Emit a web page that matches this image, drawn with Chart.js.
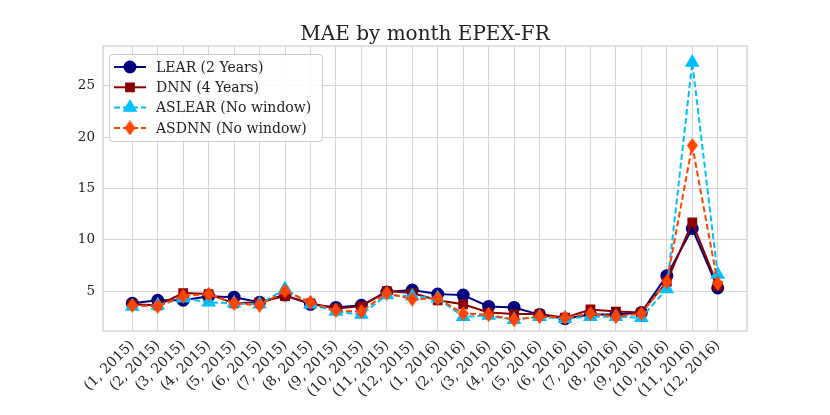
<!DOCTYPE html>
<html>
<head>
<meta charset="utf-8">
<script src="https://cdn.jsdelivr.net/npm/chart.js@4.4.1/dist/chart.umd.min.js"></script>
<style>
  body { margin: 0; background: #fff; }
</style>
</head>
<body>
<canvas id="maeChart" width="830" height="415"></canvas>
<script>
// Month labels (month, year)
const months = ['(1, 2015)', '(2, 2015)', '(3, 2015)', '(4, 2015)', '(5, 2015)', '(6, 2015)',
    '(7, 2015)', '(8, 2015)', '(9, 2015)', '(10, 2015)', '(11, 2015)', '(12, 2015)',
    '(1, 2016)', '(2, 2016)', '(3, 2016)', '(4, 2016)', '(5, 2016)', '(6, 2016)',
    '(7, 2016)', '(8, 2016)', '(9, 2016)', '(10, 2016)', '(11, 2016)', '(12, 2016)'];

const learMae = [3.8, 4.1, 4.1, 4.5, 4.4, 3.9, 4.6, 3.7, 3.4, 3.6, 4.9, 5.1,
    4.7, 4.6, 3.5, 3.4, 2.7, 2.3, 2.7, 2.7, 2.9, 6.5, 11.1, 5.3];
const dnnMae = [3.7, 3.6, 4.8, 4.7, 3.8, 3.9, 4.5, 3.8, 3.3, 3.5, 5.0, 4.8,
    4.1, 3.7, 2.9, 2.75, 2.75, 2.4, 3.2, 3.0, 2.9, 5.9, 11.7, 5.5];
const aslearMae = [3.5, 3.6, 4.3, 3.9, 3.8, 3.7, 5.2, 3.7, 3.0, 2.7, 4.6, 4.5,
    4.3, 2.5, 2.6, 2.2, 2.5, 2.3, 2.5, 2.5, 2.4, 5.2, 27.3, 6.6];
const asdnnMae = [3.6, 3.5, 4.5, 4.7, 3.8, 3.6, 5.0, 3.9, 3.1, 3.0, 4.8, 4.2,
    4.3, 2.8, 2.7, 2.2, 2.5, 2.4, 2.8, 2.5, 2.8, 5.9, 19.2, 5.75];

const yTicks = [5, 10, 15, 20, 25];
const chartTitle = 'MAE by month EPEX-FR';

const FONT = "'DejaVu Serif', serif";

function toPoints(arr) {
    return arr.map((v, i) => ({ x: i, y: v }));
}

// thin diamond marker (matplotlib 'd')
function thinDiamond(color) {
    const cv = document.createElement('canvas');
    cv.width = 11; cv.height = 15;
    const g = cv.getContext('2d');
    g.fillStyle = color;
    g.beginPath();
    g.moveTo(5.5, 0);
    g.lineTo(11, 7.5);
    g.lineTo(5.5, 15);
    g.lineTo(0, 7.5);
    g.closePath();
    g.fill();
    return cv;
}

// title centred over the plot area
const plotTitle = {
    id: 'plotTitle',
    afterDraw(chart) {
        const a = chart.chartArea;
        const c = chart.ctx;
        c.save();
        c.fillStyle = '#222';
        c.font = '20px ' + FONT;
        c.textAlign = 'center';
        c.textBaseline = 'alphabetic';
        c.fillText(chartTitle, (a.left + a.right) / 2, a.top - 6);
        c.restore();
    }
};

// Legend drawn inside the plot (upper left)
const innerLegend = {
    id: 'innerLegend',
    afterDraw(chart) {
        const c = chart.ctx;
        const area = chart.chartArea;
        const x0 = area.left + 6, y0 = area.top + 8;
        const w = 213, h = 87;
        c.save();
        c.fillStyle = 'rgba(255,255,255,0.85)';
        c.strokeStyle = '#cccccc';
        c.lineWidth = 1;
        c.beginPath();
        c.roundRect(x0 + 0.5, y0 + 0.5, w, h, 3);
        c.fill();
        c.stroke();
        chart.data.datasets.forEach((ds, i) => {
            const y = y0 + 13 + i * 20.3;
            c.strokeStyle = ds.borderColor;
            c.lineWidth = ds.borderWidth;
            c.setLineDash(ds.borderDash || []);
            c.beginPath();
            c.moveTo(x0 + 5, y);
            c.lineTo(x0 + 37, y);
            c.stroke();
            c.setLineDash([]);
            c.fillStyle = ds.pointBackgroundColor;
            c.strokeStyle = ds.pointBorderColor;
            Chart.helpers.drawPoint(c, { pointStyle: ds.pointStyle, radius: ds.pointRadius, rotation: 0, borderWidth: 1 }, x0 + 21, y);
            c.fillStyle = '#222';
            c.font = '14px ' + FONT;
            c.textBaseline = 'middle';
            c.fillText(ds.label, x0 + 47, y + 1);
        });
        c.restore();
    }
};

// Plot frame
const frame = {
    id: 'frame',
    beforeDatasetsDraw(chart) {
        const a = chart.chartArea;
        const c = chart.ctx;
        c.save();
        c.strokeStyle = '#cccccc';
        c.lineWidth = 1.2;
        c.strokeRect(a.left, a.top, a.right - a.left, a.bottom - a.top);
        c.restore();
    }
};

function series(label, data, color, style, radius, dash, order) {
    return {
        label: label,
        data: toPoints(data),
        order: order,
        borderColor: color,
        backgroundColor: color,
        pointBackgroundColor: color,
        pointBorderColor: color,
        borderWidth: 2,
        borderDash: dash,
        pointStyle: style,
        pointRadius: radius,
        pointHoverRadius: radius,
        tension: 0
    };
}

new Chart(document.getElementById('maeChart').getContext('2d'), {
    type: 'line',
    data: {
        datasets: [
            series('LEAR (2 Years)', learMae, '#000080', 'circle', 5.5, [], 3),
            series('DNN (4 Years)', dnnMae, '#8b0000', 'rect', 5.5, [], 2),
            series('ASLEAR (No window)', aslearMae, '#00bfff', 'triangle', 6.5, [6, 3], 1),
            series('ASDNN (No window)', asdnnMae, '#ff4500', thinDiamond('#ff4500'), 7, [6, 3], 0)
        ]
    },
    options: {
        responsive: false,
        animation: false,
        layout: { padding: { left: 0, right: 83, top: 46, bottom: 0 } },
        plugins: {
            legend: { display: false },
            tooltip: { enabled: false },
            title: { display: false }
        },
        scales: {
            x: {
                type: 'linear',
                min: -1.15,
                max: 24.15,
                afterBuildTicks: s => { s.ticks = months.map((m, i) => ({ value: i })); },
                afterFit: s => { s.height = 84; },
                grid: { color: '#d6d6d6', lineWidth: 1, drawTicks: false },
                border: { display: false },
                ticks: {
                    autoSkip: false,
                    minRotation: 45,
                    maxRotation: 45,
                    padding: 6,
                    color: '#222',
                    font: { family: FONT, size: 14 },
                    callback: v => months[v]
                }
            },
            y: {
                min: 1.1,
                max: 28.9,
                afterBuildTicks: s => { s.ticks = yTicks.map(v => ({ value: v })); },
                afterFit: s => { s.width = 103; },
                grid: { color: '#d6d6d6', lineWidth: 1, drawTicks: false },
                border: { display: false },
                ticks: {
                    padding: 8,
                    color: '#222',
                    font: { family: FONT, size: 13.5 }
                }
            }
        }
    },
    plugins: [frame, innerLegend, plotTitle]
});
</script>
</body>
</html>
